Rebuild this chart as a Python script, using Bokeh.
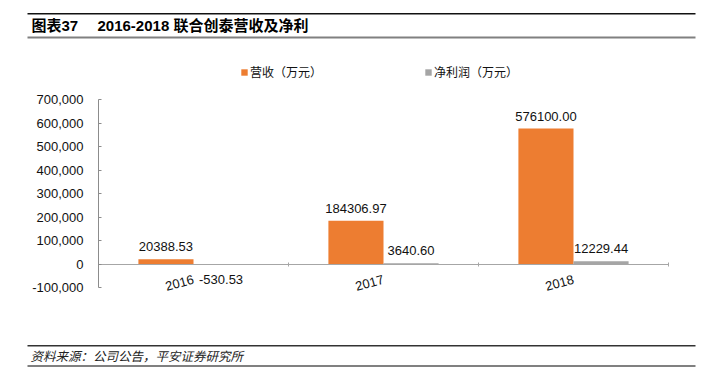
from bokeh.plotting import figure
from bokeh.models import (Range1d, FixedTicker, NumeralTickFormatter,
                          Legend, LegendItem, Label, BoxAnnotation, ColumnDataSource)
from bokeh.core.properties import value
from bokeh.embed import file_html
from bokeh.resources import INLINE

# ---- data ----
years = ["2016", "2017", "2018"]
revenue = [20388.53, 184306.97, 576100.00]
net_profit = [-530.53, 3640.60, 12229.44]
revenue_labels = ["20388.53", "184306.97", "576100.00"]
profit_labels = ["-530.53", "3640.60", "12229.44"]
y_ticks = [-100000, 0, 100000, 200000, 300000, 400000, 500000, 600000, 700000]
series_names = ["营收（万元）", "净利润（万元）"]
title_prefix = "图表37"
title_text = "2016-2018 联合创泰营收及净利"
source_text = "资料来源：公司公告，平安证券研究所"

# ---- layout constants (canvas pixels) ----
W, H = 711, 376
FL, FR, FT, FB = 98, 668, 99, 287          # plot area inside the canvas
ORANGE = "#ED7D31"
GRAY = "#A5A5A5"
LATIN = "Liberation Sans, Noto Sans CJK SC"
CJK = "Noto Sans CJK SC"

N = len(years)
cw = (FR - FL) / N                          # px per category
ymin, ymax = y_ticks[0], y_ticks[-1]
ppu = (FB - FT) / (ymax - ymin)             # px per value unit

p = figure(width=W, height=H,
           x_range=Range1d(-FL / cw, N + (W - FR) / cw),
           y_range=Range1d(ymin - (H - FB) / ppu, ymax + FT / ppu),
           output_backend="svg", toolbar_location=None,
           min_border=0, min_border_left=0, min_border_right=0,
           min_border_top=0, min_border_bottom=0)
p.outline_line_color = None
p.xgrid.visible = False
p.ygrid.visible = False
p.background_fill_color = "white"
p.border_fill_color = "white"

bw = 0.29
off = 0.145
centers = [i + 0.5 for i in range(N)]

def baselines(vals):
    return ["bottom" if v >= 0 else "top" for v in vals]

def offsets(vals):
    return [-8 if v >= 0 else 11 for v in vals]

rev_src = ColumnDataSource(dict(x=[c - off for c in centers], top=revenue, label=revenue_labels,
                                base=baselines(revenue), off=offsets(revenue)))
np_src = ColumnDataSource(dict(x=[c + off for c in centers], top=net_profit, label=profit_labels,
                               base=baselines(net_profit), off=offsets(net_profit)))

r1 = p.vbar(x="x", top="top", bottom=0, width=bw, source=rev_src,
            fill_color=ORANGE, line_color=None)
r2 = p.vbar(x="x", top="top", bottom=0, width=bw, source=np_src,
            fill_color=GRAY, line_color=None)

for src in (rev_src, np_src):
    p.text(x="x", y="top", text="label", source=src,
           text_align="center", text_baseline="base", y_offset="off",
           text_font=value(LATIN), text_font_size="13px", text_color="#111111")

# x axis drawn on the zero line
xa = p.xaxis[0]
xa.fixed_location = 0
xa.bounds = (0, N)
xa.ticker = FixedTicker(ticks=centers, minor_ticks=list(range(N + 1)))
xa.major_label_overrides = {c: y for c, y in zip(centers, years)}
xa.major_label_orientation = 0.27
xa.major_tick_line_color = None
xa.minor_tick_line_color = "#a6a6a6"
xa.minor_tick_in = 2
xa.minor_tick_out = 2
xa.axis_line_color = "#a6a6a6"
xa.major_label_text_font = LATIN
xa.major_label_text_font_size = "13px"
xa.major_label_text_color = "#111111"
xa.major_label_standoff = 9

# y axis at the left edge of the plot area
ya = p.yaxis[0]
ya.fixed_location = 0
ya.bounds = (ymin, ymax)
ya.ticker = FixedTicker(ticks=y_ticks)
ya.formatter = NumeralTickFormatter(format="0,0")
ya.major_tick_in = 3
ya.major_tick_out = 0
ya.minor_tick_line_color = None
ya.axis_line_color = "#8c8c8c"
ya.major_tick_line_color = "#8c8c8c"
ya.major_label_standoff = 15
ya.major_label_text_font = LATIN
ya.major_label_text_font_size = "13px"
ya.major_label_text_color = "#111111"

# legends
for rend, name, lx in ((r1, series_names[0], 240), (r2, series_names[1], 424)):
    lg = Legend(items=[LegendItem(label=name, renderers=[rend])],
                location=(lx, H - 80), orientation="horizontal",
                padding=0, margin=0, spacing=0, glyph_width=8, glyph_height=8,
                label_standoff=2, label_height=12, label_text_font=CJK,
                label_text_font_size="12px", label_text_color="#111111",
                border_line_color=None, background_fill_alpha=0)
    p.add_layout(lg)

# title and source texts
p.add_layout(Label(x=31, y=H - 25, x_units="screen", y_units="screen",
                   text=title_prefix, text_font=LATIN, text_font_style="bold",
                   text_font_size="15px", text_baseline="middle", text_color="#000000"))
p.add_layout(Label(x=97, y=H - 25, x_units="screen", y_units="screen",
                   text=title_text, text_font=LATIN, text_font_style="bold",
                   text_font_size="15px", text_baseline="middle", text_color="#000000"))
p.add_layout(Label(x=30, y=H - 355, x_units="screen", y_units="screen",
                   text=source_text, text_font=CJK, text_font_style="italic",
                   text_font_size="12.5px", text_baseline="middle", text_color="#222222"))

# horizontal rules (canvas units)
for top, bot, col in ((12.5, 14, "#111111"), (36, 38, "#808080"),
                      (344.5, 346, "#333333"), (364.5, 366.5, "#808080")):
    p.add_layout(BoxAnnotation(left=27, right=695, top=top, bottom=bot,
                               left_units="canvas", right_units="canvas",
                               top_units="canvas", bottom_units="canvas",
                               fill_color=col, fill_alpha=1, line_color=None))

open("out.html", "w").write(file_html(p, INLINE))
